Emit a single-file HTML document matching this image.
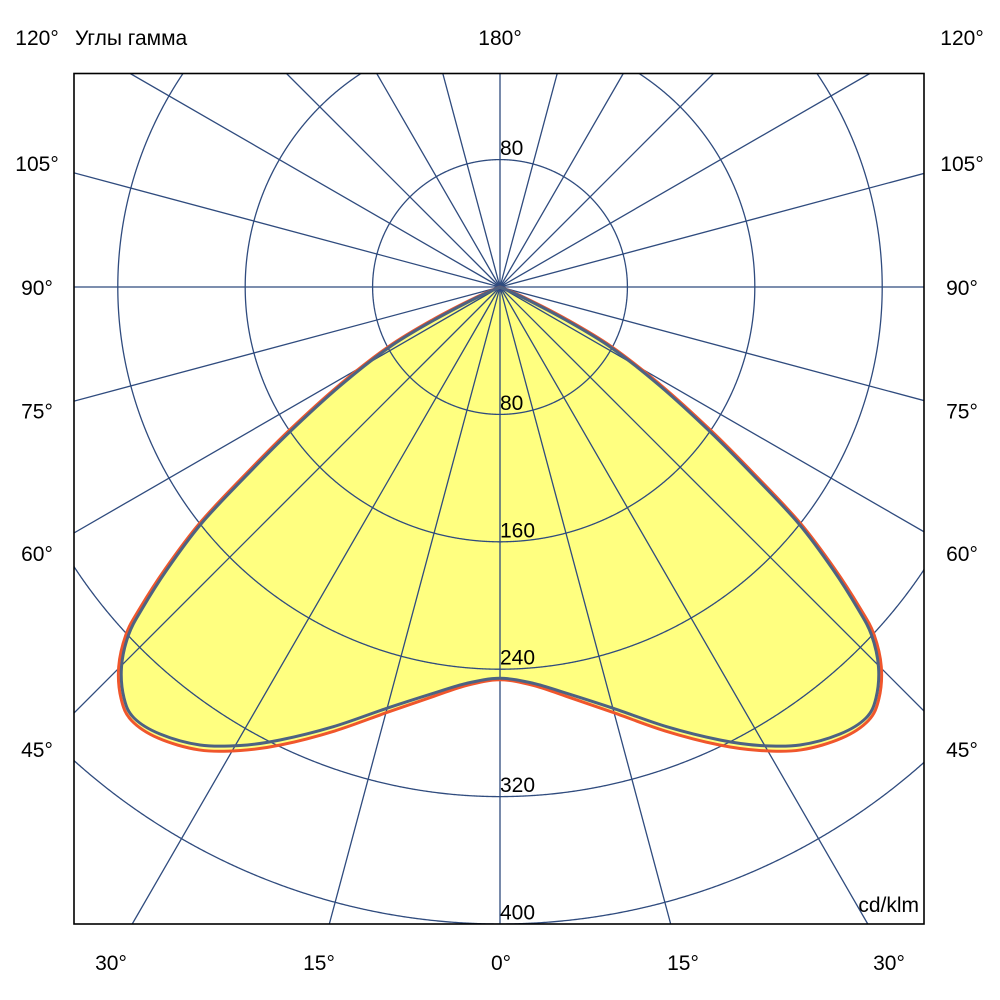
<!DOCTYPE html>
<html><head><meta charset="utf-8">
<style>
html,body{margin:0;padding:0;background:#fff;width:1000px;height:1000px;overflow:hidden;}
svg{display:block;position:absolute;left:0;top:0;}
text{font-family:"Liberation Sans","DejaVu Sans",sans-serif;font-size:21px;fill:#000;}
</style></head>
<body>
<svg id="s" width="1000" height="1000" viewBox="0 0 1000 1000" xmlns="http://www.w3.org/2000/svg">
<defs><clipPath id="cp"><rect x="74" y="73.5" width="850" height="850.5"/></clipPath></defs>
<rect x="0" y="0" width="1000" height="1000" fill="#fff"/>
<path id="fill" fill="#ffff80" stroke="none" d=""/>
<g id="grid" clip-path="url(#cp)" stroke="#2f4b7e" stroke-width="1.3" fill="none"></g>
<path id="red" fill="none" stroke="#f0562c" stroke-width="3" stroke-linejoin="round" d=""/>
<path id="blue" fill="none" stroke="#4d6282" stroke-width="3" stroke-linejoin="round" d=""/>
<rect x="74" y="73.5" width="850" height="850.5" fill="none" stroke="#000" stroke-width="1.6"/>
<g>
<text x="500" y="155">80</text>
<text x="500" y="409.8">80</text>
<text x="500" y="537.3">160</text>
<text x="500" y="664.6">240</text>
<text x="500" y="792">320</text>
<text x="500" y="919.4">400</text>
</g>
<g text-anchor="middle">
<text x="37" y="45">120°</text>
<text x="37" y="171">105°</text>
<text x="37" y="295">90°</text>
<text x="37" y="418.5">75°</text>
<text x="37" y="561">60°</text>
<text x="37" y="757">45°</text>
<text x="962" y="45">120°</text>
<text x="962" y="171">105°</text>
<text x="962" y="295">90°</text>
<text x="962" y="418.5">75°</text>
<text x="962" y="561">60°</text>
<text x="962" y="757">45°</text>
<text x="500" y="45">180°</text>
<text x="111" y="970">30°</text>
<text x="319" y="970">15°</text>
<text x="501" y="970">0°</text>
<text x="683" y="970">15°</text>
<text x="889" y="970">30°</text>
</g>
<text x="75" y="45">Углы гамма</text>
<text x="919" y="912" text-anchor="end">cd/klm</text>
</svg>
<script>
(function(){
var NS="http://www.w3.org/2000/svg";
var cx=500,cy=287,k=637/400;
var X0=74,Y0=73.5,X1=924,Y1=924;
var g=document.getElementById("grid");
function inside(x,y){return x>=X0&&x<=X1&&y>=Y0&&y<=Y1;}
function clampP(x,y){return [Math.min(X1,Math.max(X0,x)),Math.min(Y1,Math.max(Y0,y))];}
for(var n=1;n<=5;n++){
  var r=80*n*k,d="",prevIn=false,prev=null,N=2880;
  for(var i=0;i<=N;i++){
    var t=i/N*2*Math.PI,x=cx+r*Math.sin(t),y=cy+r*Math.cos(t),ins=inside(x,y);
    if(ins){
      if(!prevIn){
        if(prev){var c=clampP(prev[0],prev[1]);d+="M"+c[0].toFixed(2)+","+c[1].toFixed(2)+" L"+x.toFixed(2)+","+y.toFixed(2);}
        else d+="M"+x.toFixed(2)+","+y.toFixed(2);
      } else d+=" L"+x.toFixed(2)+","+y.toFixed(2);
    } else if(prevIn){var c2=clampP(x,y);d+=" L"+c2[0].toFixed(2)+","+c2[1].toFixed(2)+" ";}
    prevIn=ins;prev=[x,y];
  }
  var p=document.createElementNS(NS,"path");p.setAttribute("d",d);g.appendChild(p);
}
for(var a=0;a<360;a+=15){
  var t=a*Math.PI/180,dx=Math.sin(t),dy=Math.cos(t),tm=1e9;
  if(dx>1e-9)tm=Math.min(tm,(X1-cx)/dx); if(dx<-1e-9)tm=Math.min(tm,(X0-cx)/dx);
  if(dy>1e-9)tm=Math.min(tm,(Y1-cy)/dy); if(dy<-1e-9)tm=Math.min(tm,(Y0-cy)/dy);
  var l=document.createElementNS(NS,"line");l.setAttribute("x1",cx);l.setAttribute("y1",cy);
  l.setAttribute("x2",(cx+tm*dx).toFixed(2));l.setAttribute("y2",(cy+tm*dy).toFixed(2));g.appendChild(l);
}
var B=[[500,287],[477,297.5],[433.3,320.5],[389,347.5],[340,386],[290,431.7],[245,477],[201,524],[166.7,570],[142,609],[128.5,635],[121.5,667],[124,698],[134,718],[160,734],[200,745],[240,745.5],[280,740],[333.3,726.7],[386.7,708.3],[433.3,693.3],[466.7,683.3],[500,678.3]];
var off=[0,0.6,1,1,1.2,1.5,1.5,1.5,1.8,2.2,2.5,2.8,3,3.5,4.5,5,5,5,4.5,4,3,2,1.5];
var Rd=B.map(function(p,i){if(i==0)return p.slice();var a=B[Math.max(i-1,0)],b=B[Math.min(i+1,B.length-1)];var dx=b[0]-a[0],dy=b[1]-a[1],L=Math.sqrt(dx*dx+dy*dy);var nx=-dy/L,ny=dx/L;if(i==B.length-1){nx=0;ny=1;}return [p[0]+nx*off[i],p[1]+ny*off[i]];});
function full(L){var R=L.slice(0,-1).reverse().map(function(p){return [1000-p[0],p[1]];});return L.concat(R);}
function cr(P){var d="M"+P[0][0].toFixed(2)+","+P[0][1].toFixed(2);for(var i=0;i<P.length-1;i++){var p0=P[Math.max(i-1,0)],p1=P[i],p2=P[i+1],p3=P[Math.min(i+2,P.length-1)];var c1=[p1[0]+(p2[0]-p0[0])/6,p1[1]+(p2[1]-p0[1])/6];var c2=[p2[0]-(p3[0]-p1[0])/6,p2[1]-(p3[1]-p1[1])/6];d+=" C"+c1[0].toFixed(2)+","+c1[1].toFixed(2)+" "+c2[0].toFixed(2)+","+c2[1].toFixed(2)+" "+p2[0].toFixed(2)+","+p2[1].toFixed(2);}return d;}
var rd=cr(full(Rd)),bd=cr(full(B));
document.getElementById("fill").setAttribute("d",rd+" Z");
document.getElementById("red").setAttribute("d",rd);
document.getElementById("blue").setAttribute("d",bd);
})();
</script>
</body></html>
